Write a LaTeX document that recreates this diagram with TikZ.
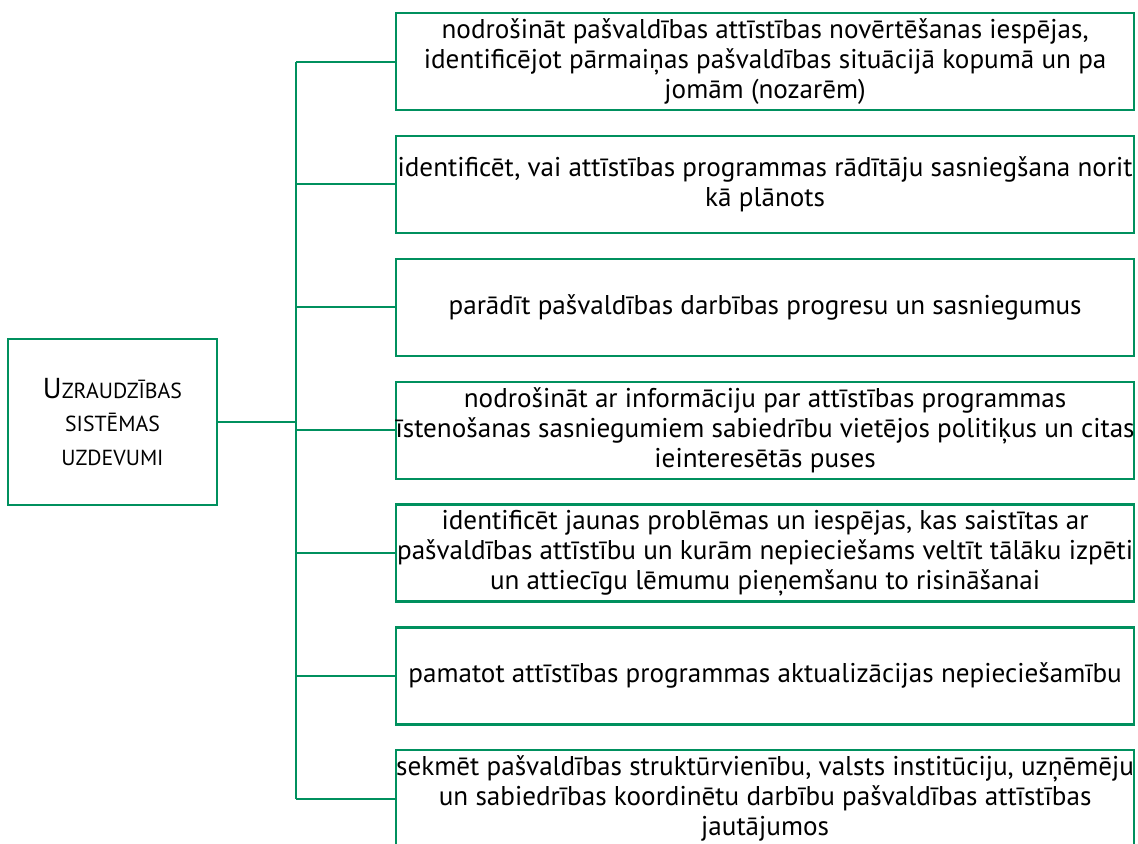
\documentclass[tikz,border=0pt]{standalone}
\usepackage{fontspec}
\setmainfont{PT Sans}
\usetikzlibrary{positioning}
\definecolor{UGreen}{HTML}{00905E}
% a line that may run past the box edges, centred on the box
\newcommand{\fullline}[1]{\makebox[18.45cm]{#1}}

\begin{document}
\begin{tikzpicture}[
    % spacing and base font
    node distance=0.59cm,
    font=\fontsize{19.3}{21.3}\selectfont,
    % styles
    taskbox/.style={
        draw=UGreen,
        line width=1.6pt,
        minimum width=18.45cm,
        minimum height=2.425cm,
        inner xsep=0pt,
        inner ysep=0pt,
        align=center
    },
    goalbox/.style={
        draw=UGreen,
        line width=1.6pt,
        minimum width=5.225cm,
        minimum height=4.15cm,
        align=center,
        font=\fontsize{15.5}{23.5}\selectfont
    },
    branch/.style={draw=UGreen, line width=1.4pt},
    trunkline/.style={draw=UGreen, line width=2.1pt}
]
    \useasboundingbox (0,0) rectangle (28.45,-21.1);

    % ====== 1. left: the task group ======
    \node[goalbox] (goal) at (2.8125,-10.55)
        {{\fontsize{20.5}{23.5}\selectfont U}ZRAUDZĪBAS\\SISTĒMAS\\UZDEVUMI};

    % ====== 2. right: the tasks, one under the other ======
    \node[taskbox, anchor=north west] (task1) at (9.875,-0.3)
        {nodrošināt pašvaldības attīstības novērtēšanas iespējas,\\
         identificējot pārmaiņas pašvaldības situācijā kopumā un pa\\
         jomām (nozarēm)};
    \node[taskbox, below=of task1] (task2)
        {\fullline{identificēt, vai attīstības programmas rādītāju sasniegšana norit}\\
         kā plānots};
    \node[taskbox, below=of task2] (task3)
        {parādīt pašvaldības darbības progresu un sasniegumus};
    \node[taskbox, below=of task3] (task4)
        {nodrošināt ar informāciju par attīstības programmas\\
         \fullline{īstenošanas sasniegumiem sabiedrību vietējos politiķus un citas}\\
         ieinteresētās puses};
    \node[taskbox, below=of task4] (task5)
        {identificēt jaunas problēmas un iespējas, kas saistītas ar\\
         \fullline{pašvaldības attīstību un kurām nepieciešams veltīt tālāku izpēti}\\
         un attiecīgu lēmumu pieņemšanu to risināšanai};
    \node[taskbox, below=of task5] (task6)
        {pamatot attīstības programmas aktualizācijas nepieciešamību};
    \node[taskbox, below=of task6] (task7)
        {\fullline{sekmēt pašvaldības struktūrvienību, valsts institūciju, uzņēmēju}\\
         un sabiedrības koordinētu darbību pašvaldības attīstības\\
         jautājumos};

    % ====== 3. connectors ======
    \coordinate (trunk) at (7.4,0);
    \draw[trunkline] (task1.west -| trunk) -- (task7.west -| trunk);
    \foreach \i in {1,...,7}
        \draw[branch] (task\i.west -| trunk) -- (task\i.west);
    \draw[trunkline] (goal.east) -- (goal.east -| trunk);

\end{tikzpicture}
\end{document}
